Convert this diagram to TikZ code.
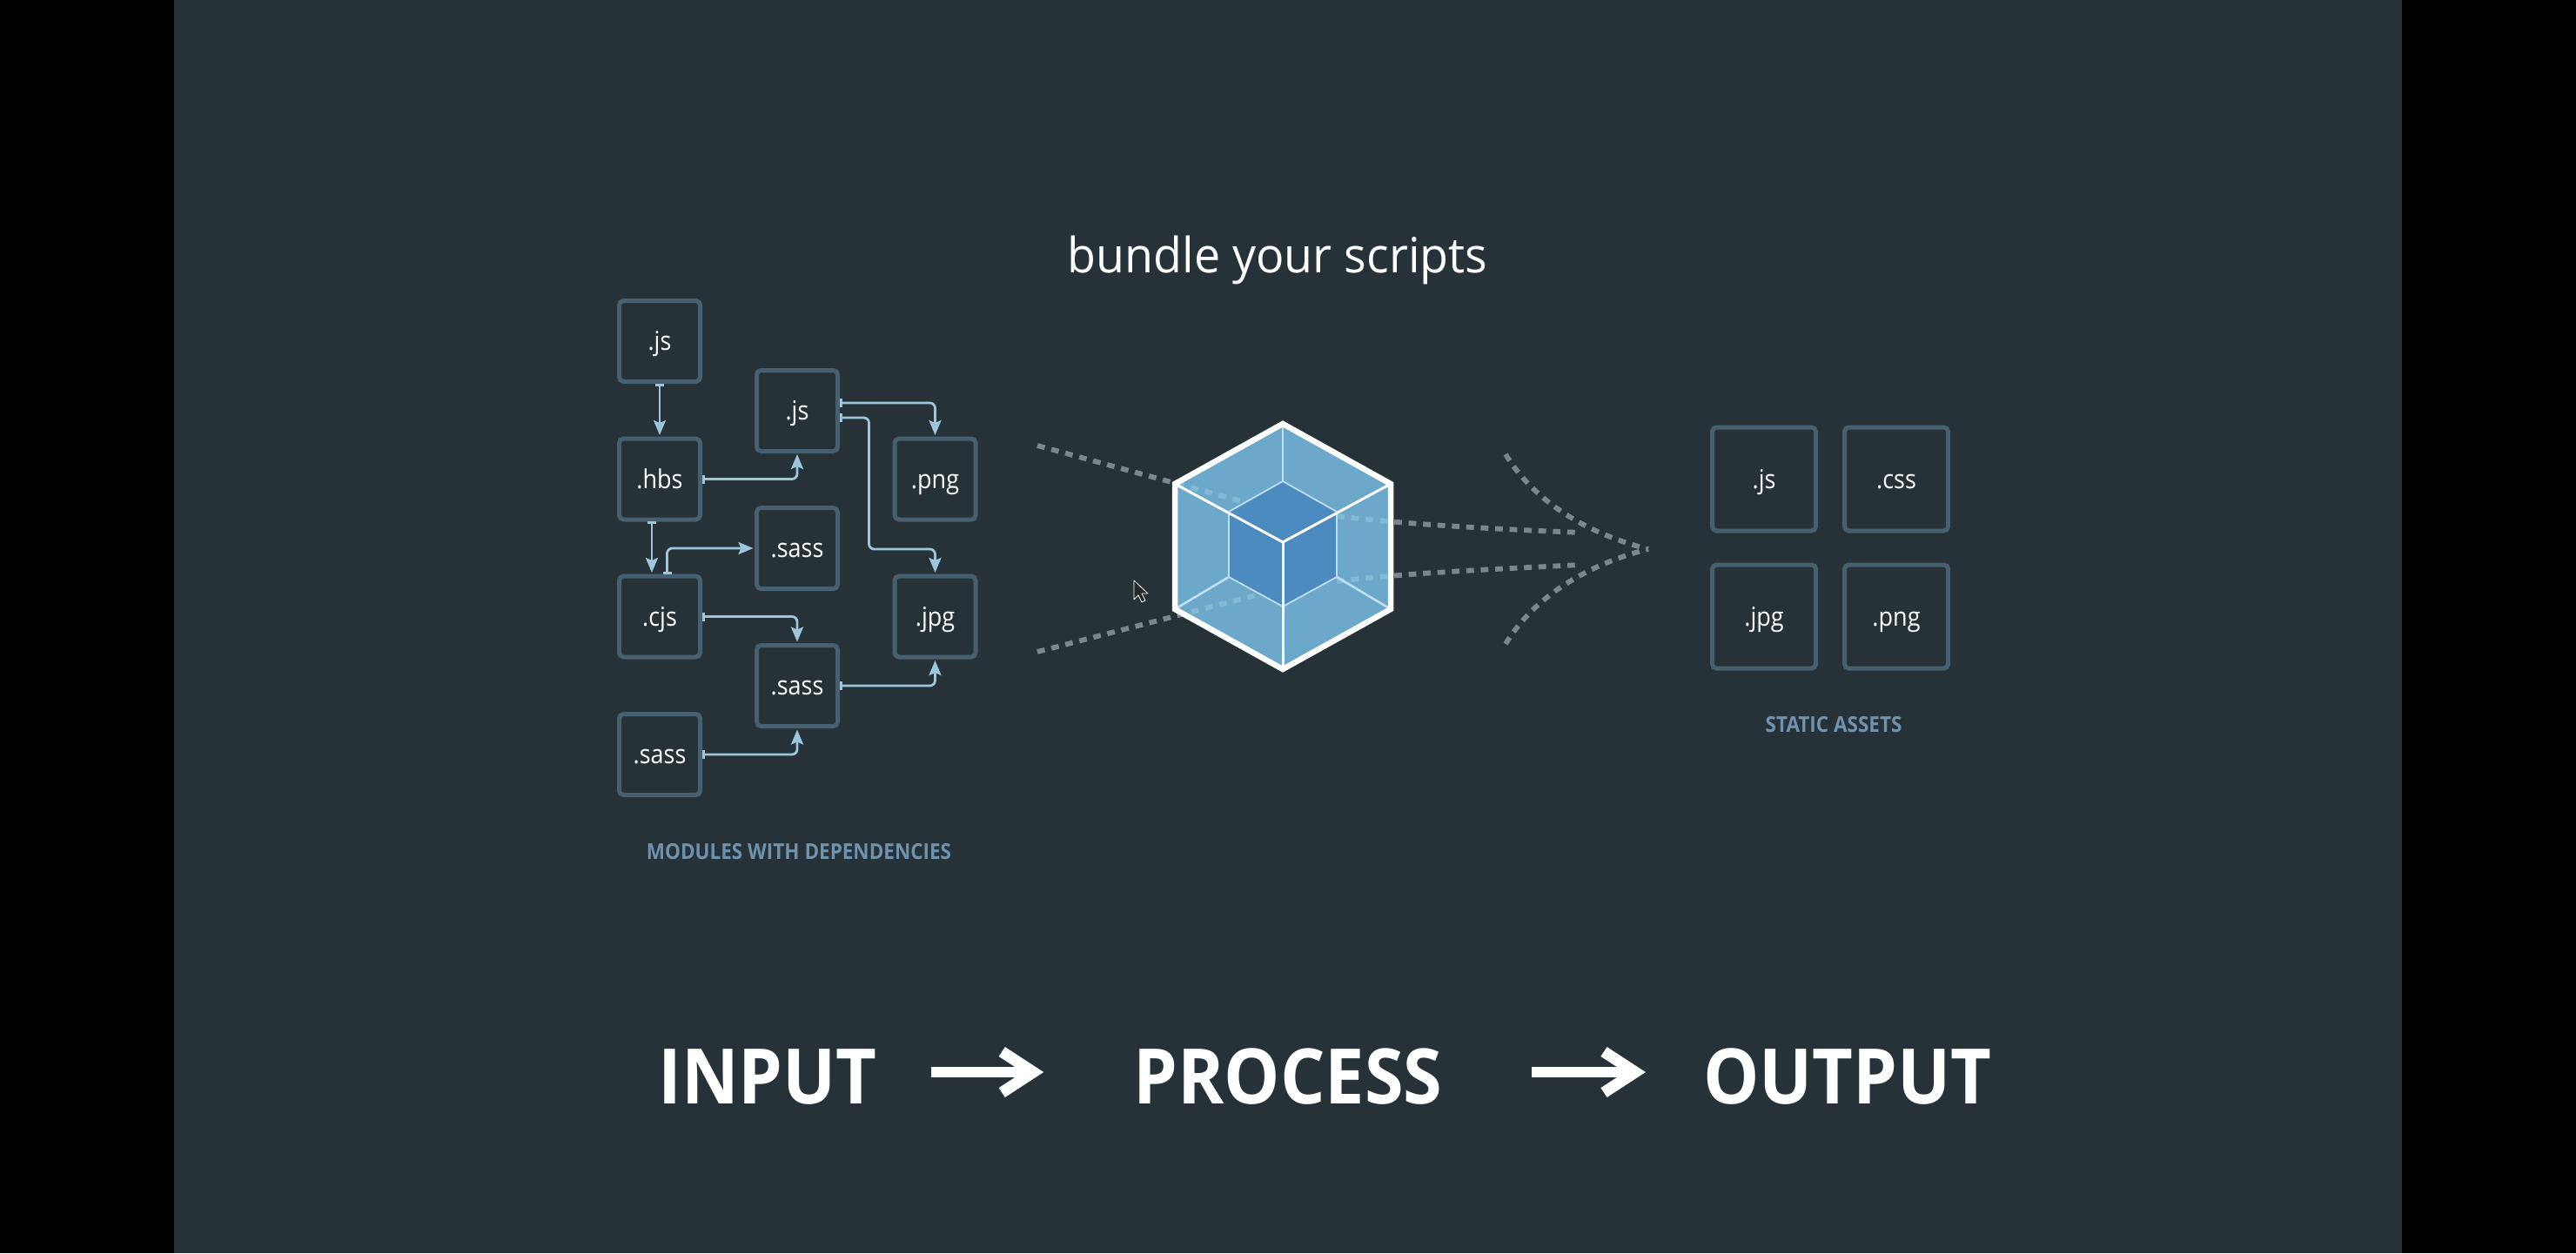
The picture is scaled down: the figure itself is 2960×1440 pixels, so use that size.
\documentclass[tikz,border=0pt]{standalone}
\usepackage{fontspec}
\setmainfont{Open Sans}
\newfontfamily\modfont[FakeStretch=0.9]{Open Sans}
\newfontfamily\titlefont[FakeStretch=0.96]{Open Sans}
\newfontfamily\capfont[FakeStretch=0.9]{Open Sans}
\newfontfamily\bigfont[FakeStretch=0.92]{Open Sans}
\usetikzlibrary{arrows.meta,calc}
\definecolor{bgc}{HTML}{263238}
\definecolor{boxc}{HTML}{47606F}
\definecolor{linkc}{HTML}{9CC6DC}
\definecolor{capc}{HTML}{6F93AD}
\definecolor{dashc}{HTML}{7A888D}
\definecolor{dashlight}{HTML}{82BAD6}
\definecolor{facec}{HTML}{6BA8C9}
\definecolor{innerc}{HTML}{4C8BC0}
\definecolor{edgec}{HTML}{BFE0F0}
\tikzset{
  modbox/.style={draw=boxc,line width=2.5pt,rounded corners=2.5pt,minimum size=46.5pt,inner sep=0pt,text=white,font=\modfont\fontsize{15}{18}\selectfont,outer sep=0pt,text height=12pt,text depth=1.5pt},
  assetbox/.style={modbox,minimum size=59.5pt},
  linkline/.style={draw=linkc,line width=1.4pt,rounded corners=3pt,{Bar[width=5pt,line width=1.5pt]}-{Stealth[length=8.5pt,width=7pt,inset=1.5pt]}},
  captext/.style={text=capc,font=\capfont\bfseries\fontsize{12.5}{15}\selectfont,inner sep=0pt},
  bigtext/.style={text=white,font=\bigfont\bfseries\fontsize{44}{50}\selectfont,inner sep=0pt,text height=36pt,text depth=0pt},
  bigarrow/.style={draw=white,line width=6.25pt,-{Straight Barb[length=18pt,width=23.5pt,line width=6.5pt]}},
  flowline/.style={draw=dashc,line width=2.9pt,dash pattern=on 4.4pt off 3.9pt},
  flowinner/.style={draw=dashlight,line width=2.9pt,dash pattern=on 4.4pt off 3.9pt},
}
\begin{document}
\begin{tikzpicture}[x=.5pt,y=-.5pt]
\useasboundingbox (0,0) rectangle (2960,1440);
\fill[black] (0,0) rectangle (2960,1440);
\fill[bgc] (200,0) rectangle (2760,1440);
% dashed flows
\def\flowA{(1192,512) -- (1430,577)}
\def\flowB{(1192,749) -- (1447,683)}
\def\flowC{(1536,593) .. controls (1620,603) and (1720,608) .. (1816,612)}
\def\flowD{(1536,668) .. controls (1620,658) and (1720,654) .. (1816,649)}
\draw[flowline] \flowA; \draw[flowline] \flowB; \draw[flowline] \flowC; \draw[flowline] \flowD;
\draw[flowline] (1730,522) .. controls (1765,580) and (1830,615) .. (1894,631);
\draw[flowline] (1730,740) .. controls (1765,682) and (1830,647) .. (1894,631);
% hexagon
\coordinate (ht) at (1474,487); \coordinate (hur) at (1598,556); \coordinate (hlr) at (1598,700);
\coordinate (hb) at (1474,769); \coordinate (hll) at (1350,700); \coordinate (hul) at (1350,556);
\fill[facec] (ht)--(hur)--(hlr)--(hb)--(hll)--(hul)--cycle;
\begin{scope}
\clip (ht)--(hur)--(hlr)--(hb)--(hll)--(hul)--cycle;
\draw[flowinner] \flowA; \draw[flowinner] \flowB; \draw[flowinner] \flowC; \draw[flowinner] \flowD;
\end{scope}
\coordinate (it) at (1474,553); \coordinate (iur) at (1536,588); \coordinate (ilr) at (1536,663);
\coordinate (ib) at (1474,697); \coordinate (ill) at (1412,663); \coordinate (iul) at (1412,588);
\coordinate (ic) at (1474,623);
\fill[innerc] (it)--(iur)--(ilr)--(ib)--(ill)--(iul)--cycle;
\draw[edgec,line width=.9pt,line join=round] (it)--(iur)--(ilr)--(ib)--(ill)--(iul)--cycle;
\draw[edgec,line width=1.3pt] (ht)--(it);
\draw[edgec,line width=1.3pt] (hll)--(ill);
\draw[edgec,line width=1.3pt] (hlr)--(ilr);
\draw[white,line width=1.5pt] (hul)--(ic)--(hur);
\draw[white,line width=1.5pt] (ic)--(hb);
\draw[white,line width=3.25pt,line join=miter] (ht)--(hur)--(hlr)--(hb)--(hll)--(hul)--cycle;
% cursor
\draw[fill=black!85,draw=white!80,line width=.4pt,line join=round] (1303,667) -- (1303,689) -- (1308,684) -- (1312,692) -- (1316,690) -- (1312,682) -- (1319,682) -- cycle;
% title
\node[text=white,font=\titlefont\fontsize{28}{34}\selectfont,inner sep=0pt,anchor=base] (title) at (1468,313) {bundle your scripts};
% modules
\node[modbox] (m1) at (758,392) {.js};
\node[modbox] (m2) at (758,550.5) {.hbs};
\node[modbox] (m3) at (758,708.5) {.cjs};
\node[modbox] (m4) at (758,867) {.sass};
\node[modbox] (m5) at (916,472) {.js};
\node[modbox] (m6) at (916,630) {.sass};
\node[modbox] (m7) at (916,788) {.sass};
\node[modbox] (m8) at (1074.5,550.5) {.png};
\node[modbox] (m9) at (1074.5,708.5) {.jpg};
\draw[linkline] ([shift={(0,2)}]m1.south) -- ([shift={(0,-4)}]m2.north);
\draw[linkline] ([shift={(2,0)}]m2.east) -| ([shift={(0,3.5)}]m5.south);
\draw[linkline] ([shift={(2,-9)}]m5.east) -| ([shift={(0,-4)}]m8.north);
\draw[linkline] ([shift={(2,8)}]m5.east) -- ++(34,0) -- ++(0,151) -| ([shift={(0,-4)}]m9.north);
\draw[linkline] ([shift={(-9,2)}]m2.south) -- ([shift={(-9,-4)}]m3.north);
\draw[linkline] ([shift={(8.5,-2)}]m3.north) |- ([shift={(-4,0)}]m6.west);
\draw[linkline] ([shift={(2,0)}]m3.east) -| ([shift={(0,-4)}]m7.north);
\draw[linkline] ([shift={(2,0)}]m7.east) -| ([shift={(0,4)}]m9.south);
\draw[linkline] ([shift={(2,0)}]m4.east) -| ([shift={(0,4)}]m7.south);
\node[captext] (capm) at (918,979) {MODULES WITH DEPENDENCIES};
% assets
\node[assetbox] (a1) at (2027,550.5) {.js};
\node[assetbox] (a2) at (2179,550.5) {.css};
\node[assetbox] (a3) at (2027,708.5) {.jpg};
\node[assetbox] (a4) at (2179,708.5) {.png};
\node[captext] (capa) at (2107,833) {STATIC ASSETS};
% bottom
\node[bigtext] (input) at (882,1232) {INPUT};
\node[bigtext] (process) at (1480,1232) {PROCESS};
\node[bigtext] (output) at (2123,1232) {OUTPUT};
\draw[bigarrow,shorten <=31pt,shorten >=51.5pt] (input.east) -- (process.west);
\draw[bigarrow,shorten <=51pt,shorten >=33pt] (process.east) -- (output.west);
\end{tikzpicture}
\end{document}
